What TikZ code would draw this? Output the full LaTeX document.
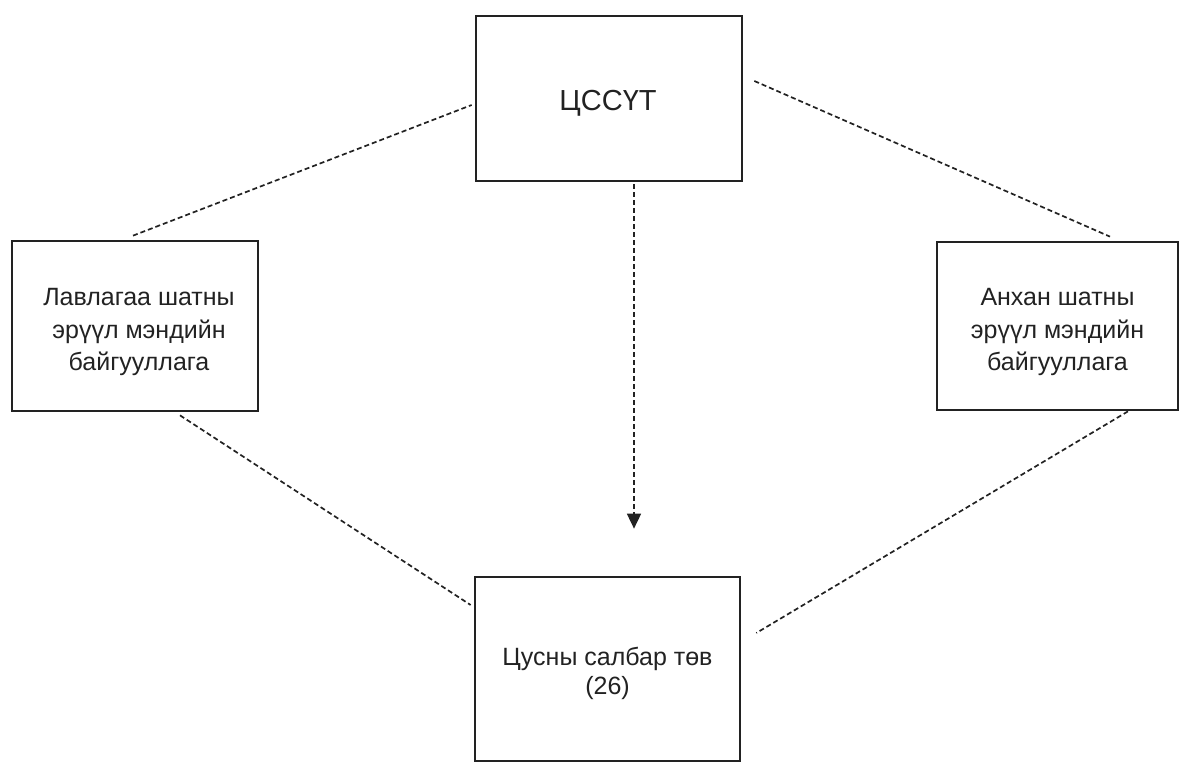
\documentclass[tikz,border=0pt]{standalone}
\usepackage{fontspec}
\setmainfont{Liberation Sans}
\usetikzlibrary{calc,arrows.meta}
\definecolor{ink}{HTML}{222222}
\begin{document}
\begin{tikzpicture}[x=1pt,y=-1pt,
  box/.style={draw=ink,line width=2.7pt,fill=none,inner sep=0pt},
  lbl/.style={inner sep=0pt,align=center,text=ink,font=\fontsize{25}{32.5}\selectfont},
  link/.style={draw=ink,line width=1.7pt,dash pattern=on 5pt off 3pt},
  arr/.style={link,-{Triangle[length=15pt,width=14pt]}}]
\useasboundingbox (0,0) rectangle (1184,773);
\node[box,minimum width=266pt,minimum height=165pt] (T) at (609,98.5) {};
\node[box,minimum width=246pt,minimum height=170pt] (L) at (135,326) {};
\node[box,minimum width=241pt,minimum height=168pt] (R) at (1057.5,326) {};
\node[box,minimum width=265pt,minimum height=184pt] (B) at (607.5,669) {};
\node[lbl,font=\fontsize{29}{34}\selectfont] (Tt) at ($(T.center)+(-1,5)$) {ЦССҮТ};
\node[lbl] (Lt) at ($(L.center)+(4,6)$) {Лавлагаа шатны\\эрүүл мэндийн\\байгууллага};
\node[lbl] (Rt) at ($(R.center)+(0,6)$) {Анхан шатны\\эрүүл мэндийн\\байгууллага};
\node[lbl,font=\fontsize{25}{29}\selectfont] (Bt) at ($(B.center)+(0,4)$) {Цусны салбар төв\\(26)};
\draw[link] ($(L.north)+(-2,-4)$) -- ($(T.west)+(-3,6.5)$);
\draw[link] ($(T.east)+(11,-17.5)$) -- ($(R.north)+(52.5,-4)$);
\draw[link] ($(L.south)+(45,3)$) -- ($(B.west)+(-3,-64)$);
\draw[link] ($(R.south)+(70.5,0)$) -- ($(B.east)+(15,-36)$);
\draw[arr] ($(T.south)+(25,2)$) -- ($(B.north)+(26.5,-47)$);
\end{tikzpicture}
\end{document}
